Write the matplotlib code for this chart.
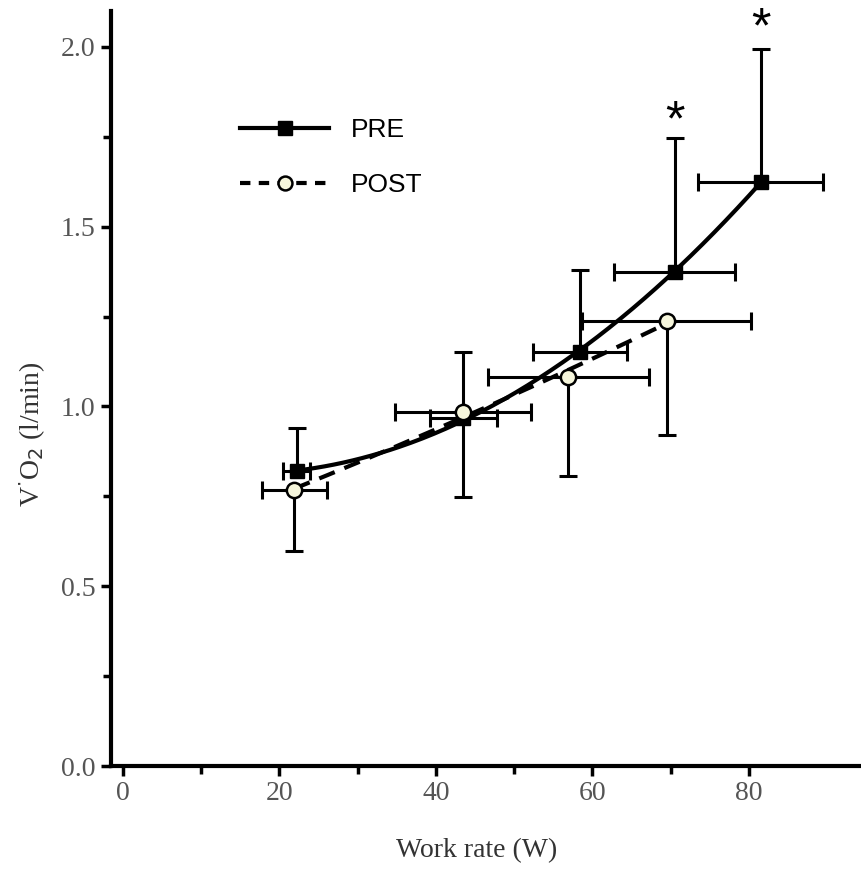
import numpy as np
import matplotlib
matplotlib.use("Agg")
import matplotlib.pyplot as plt
from matplotlib.ticker import MultipleLocator, FixedLocator
from matplotlib.lines import Line2D

# ---- data ----
pre_x = [22.2, 43.5, 58.4, 70.5, 81.5]
pre_y = [0.82, 0.967, 1.152, 1.375, 1.625]
pre_yerr_up = [0.12, 0.185, 0.228, 0.371, 0.369]
pre_xerr = [1.7, 4.25, 6.0, 7.7, 8.0]

post_x = [21.9, 43.5, 56.9, 69.5]
post_y = [0.768, 0.986, 1.081, 1.239]
post_yerr_low = [0.169, 0.239, 0.274, 0.318]
post_xerr = [4.15, 8.7, 10.3, 10.8]

star_x = [70.5, 81.5]
star_y = [1.79, 2.05]

x_ticks = [0, 20, 40, 60, 80]
x_minor = [10, 30, 50, 70]
y_ticks = [0.0, 0.5, 1.0, 1.5, 2.0]

serif = ['Liberation Serif', 'DejaVu Serif']
sans = ['Liberation Sans', 'DejaVu Sans']

fig = plt.figure(figsize=(8.61, 8.74), dpi=100)
ax = fig.add_axes([111/861, 108/874, 750/861, 755/874])

eb_kw = dict(fmt='none', ecolor='black', elinewidth=2.2, capsize=6.5, capthick=2.2, zorder=2)
ax.errorbar(pre_x, pre_y, xerr=pre_xerr,
            yerr=[np.zeros(len(pre_y)), pre_yerr_up], **eb_kw)
ax.errorbar(post_x, post_y, xerr=post_xerr,
            yerr=[post_yerr_low, np.zeros(len(post_y))], **eb_kw)

# smooth fitted curves
c_pre = np.polyfit(pre_x, pre_y, 2)
xs_pre = np.linspace(min(pre_x), max(pre_x), 200)
ax.plot(xs_pre, np.polyval(c_pre, xs_pre), color='black', lw=3.0, zorder=3)
c_post = np.polyfit(post_x, post_y, 2)
xs_post = np.linspace(min(post_x), max(post_x), 200)
ax.plot(xs_post, np.polyval(c_post, xs_post), color='black', lw=3.0,
        dashes=(4, 2.5), zorder=3)

ax.plot(pre_x, pre_y, ls='none', marker='s', ms=9.5, mfc='black', mec='black', zorder=4)
ax.plot(post_x, post_y, ls='none', marker='o', ms=11, mfc='#f6f6dc', mec='black',
        mew=1.8, zorder=5)

for sx, sy in zip(star_x, star_y):
    ax.text(sx, sy, '*', ha='center', va='center', fontsize=36, family=sans)

h_pre = Line2D([], [], color='black', lw=3.0, marker='s', ms=9.5, mfc='black')
h_post = Line2D([], [], color='black', lw=3.0, dashes=(2.5, 2), marker='o', ms=10,
                mfc='#f6f6dc', mec='black', mew=1.8)
ax.legend([h_pre, h_post], ['PRE', 'POST'], loc='upper left',
          bbox_to_anchor=(0.14, 0.89), frameon=False, handlelength=3.4,
          handletextpad=0.8, labelspacing=1.2,
          prop={'family': sans, 'size': 19})

ax.set_xlim(-1.5, 94.3)
ax.set_ylim(0, 2.1)
ax.set_xticks(x_ticks)
ax.set_yticks(y_ticks)
ax.set_yticklabels([f'{v:.1f}' for v in y_ticks])
ax.xaxis.set_minor_locator(FixedLocator(x_minor))
ax.yaxis.set_minor_locator(MultipleLocator(0.25))

for s in ['top', 'right']:
    ax.spines[s].set_visible(False)
for s in ['left', 'bottom']:
    ax.spines[s].set_linewidth(3.0)

ax.tick_params(which='both', direction='out', width=2.5, color='black')
ax.tick_params(which='major', length=7)
ax.tick_params(which='minor', length=6)
ax.tick_params(axis='both', labelsize=20, labelcolor='#555555', pad=4)
for lab in ax.get_xticklabels() + ax.get_yticklabels():
    lab.set_family(serif)

ax.set_xlabel('Work rate (W)', fontsize=20, family=serif, color='#333333')
ax.set_ylabel(r'V$^{\cdot}$O$_2$ (l/min)', fontsize=20, family=serif, color='#333333')
ax.yaxis.set_label_coords(-0.085, 0.44)
ax.xaxis.set_label_coords(0.488, -0.095)

fig.savefig('out.png', dpi=100)
